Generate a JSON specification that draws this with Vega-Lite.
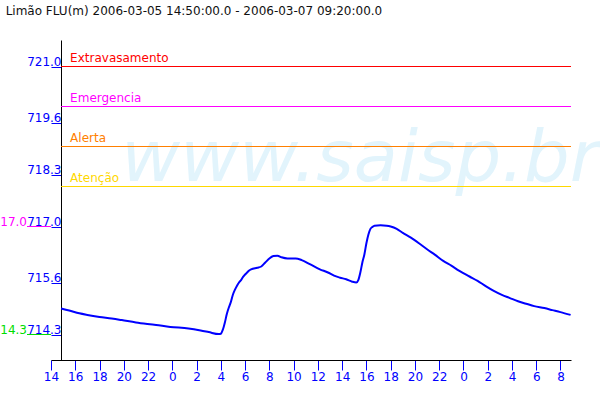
{
  "$schema": "https://vega.github.io/schema/vega-lite/v6.json",
  "width": 520,
  "height": 320,
  "autosize": {"type": "none"},
  "padding": {"left": 51, "top": 40, "right": 29, "bottom": 40},
  "background": "white",
  "config": {
    "view": {"stroke": null},
    "font": "DejaVu Sans",
    "axis": {"grid": false, "domainColor": "#000000", "domainWidth": 1, "tickColor": "#0000ff", "tickWidth": 1, "labelColor": "#0000ff", "labelFont": "DejaVu Sans", "labelFontSize": 12, "tickSize": 10},
    "axisX": {"labelPadding": 1, "labelAngle": 0},
    "axisY": {"labelPadding": -10, "labelBaseline": "bottom", "labelOffset": 2}
  },
  "title": {"text": "Lim\u00e3o FLU(m) 2006-03-05 14:50:00.0 - 2006-03-07 09:20:00.0", "anchor": "start", "dx": 13, "offset": 22, "font": "DejaVu Sans", "fontSize": 12, "fontWeight": "normal", "color": "#111111"},
  "data": {"values": [{"mark": "watermark"}]},
  "datasets": {
    "series": [
      {"t": "2006-03-05T14:50:00", "v": 714.95},
      {"t": "2006-03-05T15:30:00", "v": 714.90},
      {"t": "2006-03-05T16:20:00", "v": 714.83},
      {"t": "2006-03-05T17:00:00", "v": 714.79},
      {"t": "2006-03-05T18:00:00", "v": 714.74},
      {"t": "2006-03-05T19:00:00", "v": 714.70},
      {"t": "2006-03-05T19:50:00", "v": 714.66},
      {"t": "2006-03-05T21:00:00", "v": 714.60},
      {"t": "2006-03-05T22:40:00", "v": 714.54},
      {"t": "2006-03-05T23:50:00", "v": 714.49},
      {"t": "2006-03-06T01:20:00", "v": 714.45},
      {"t": "2006-03-06T02:20:00", "v": 714.40},
      {"t": "2006-03-06T03:00:00", "v": 714.36},
      {"t": "2006-03-06T03:50:00", "v": 714.31},
      {"t": "2006-03-06T04:00:00", "v": 714.32},
      {"t": "2006-03-06T04:10:00", "v": 714.42},
      {"t": "2006-03-06T04:20:00", "v": 714.60},
      {"t": "2006-03-06T04:30:00", "v": 714.82},
      {"t": "2006-03-06T04:40:00", "v": 714.98},
      {"t": "2006-03-06T04:50:00", "v": 715.12},
      {"t": "2006-03-06T05:00:00", "v": 715.30},
      {"t": "2006-03-06T05:10:00", "v": 715.42},
      {"t": "2006-03-06T05:20:00", "v": 715.52},
      {"t": "2006-03-06T05:30:00", "v": 715.60},
      {"t": "2006-03-06T05:40:00", "v": 715.66},
      {"t": "2006-03-06T05:50:00", "v": 715.74},
      {"t": "2006-03-06T06:00:00", "v": 715.80},
      {"t": "2006-03-06T06:10:00", "v": 715.85},
      {"t": "2006-03-06T06:20:00", "v": 715.90},
      {"t": "2006-03-06T06:30:00", "v": 715.93},
      {"t": "2006-03-06T07:00:00", "v": 715.97},
      {"t": "2006-03-06T07:20:00", "v": 716.00},
      {"t": "2006-03-06T07:40:00", "v": 716.10},
      {"t": "2006-03-06T08:00:00", "v": 716.20},
      {"t": "2006-03-06T08:20:00", "v": 716.26},
      {"t": "2006-03-06T08:40:00", "v": 716.27},
      {"t": "2006-03-06T09:00:00", "v": 716.23},
      {"t": "2006-03-06T09:30:00", "v": 716.20},
      {"t": "2006-03-06T10:10:00", "v": 716.20},
      {"t": "2006-03-06T10:40:00", "v": 716.16},
      {"t": "2006-03-06T11:20:00", "v": 716.06},
      {"t": "2006-03-06T12:10:00", "v": 715.93},
      {"t": "2006-03-06T12:50:00", "v": 715.85},
      {"t": "2006-03-06T13:20:00", "v": 715.77},
      {"t": "2006-03-06T13:50:00", "v": 715.72},
      {"t": "2006-03-06T14:20:00", "v": 715.68},
      {"t": "2006-03-06T14:50:00", "v": 715.62},
      {"t": "2006-03-06T15:10:00", "v": 715.60},
      {"t": "2006-03-06T15:20:00", "v": 715.66},
      {"t": "2006-03-06T15:30:00", "v": 715.85},
      {"t": "2006-03-06T15:40:00", "v": 716.10},
      {"t": "2006-03-06T15:50:00", "v": 716.30},
      {"t": "2006-03-06T16:00:00", "v": 716.58},
      {"t": "2006-03-06T16:10:00", "v": 716.80},
      {"t": "2006-03-06T16:20:00", "v": 716.94},
      {"t": "2006-03-06T16:30:00", "v": 716.99},
      {"t": "2006-03-06T16:40:00", "v": 717.02},
      {"t": "2006-03-06T17:10:00", "v": 717.03},
      {"t": "2006-03-06T17:40:00", "v": 717.02},
      {"t": "2006-03-06T18:00:00", "v": 717.00},
      {"t": "2006-03-06T18:30:00", "v": 716.94},
      {"t": "2006-03-06T19:00:00", "v": 716.84},
      {"t": "2006-03-06T19:40:00", "v": 716.72},
      {"t": "2006-03-06T20:20:00", "v": 716.58},
      {"t": "2006-03-06T21:00:00", "v": 716.43},
      {"t": "2006-03-06T21:40:00", "v": 716.29},
      {"t": "2006-03-06T22:20:00", "v": 716.14},
      {"t": "2006-03-06T23:00:00", "v": 716.02},
      {"t": "2006-03-06T23:40:00", "v": 715.89},
      {"t": "2006-03-07T00:30:00", "v": 715.75},
      {"t": "2006-03-07T01:10:00", "v": 715.64},
      {"t": "2006-03-07T01:50:00", "v": 715.51},
      {"t": "2006-03-07T02:30:00", "v": 715.39},
      {"t": "2006-03-07T03:10:00", "v": 715.29},
      {"t": "2006-03-07T03:50:00", "v": 715.21},
      {"t": "2006-03-07T04:30:00", "v": 715.13},
      {"t": "2006-03-07T05:10:00", "v": 715.07},
      {"t": "2006-03-07T05:50:00", "v": 715.01},
      {"t": "2006-03-07T06:40:00", "v": 714.96},
      {"t": "2006-03-07T07:20:00", "v": 714.91},
      {"t": "2006-03-07T08:00:00", "v": 714.86},
      {"t": "2006-03-07T08:50:00", "v": 714.79}
    ],
    "levels": [
      {"nivel": "Extravasamento", "v": 721.0},
      {"nivel": "Emergencia", "v": 720.0},
      {"nivel": "Alerta", "v": 719.0},
      {"nivel": "Aten\u00e7\u00e3o", "v": 718.0}
    ],
    "extremes": [
      {"kind": "max", "v": 717.0},
      {"kind": "min", "v": 714.3}
    ]
  },
  "layer": [
    {
      "mark": {"type": "text", "text": "www.saisp.br", "font": "DejaVu Sans", "fontSize": 72, "fontStyle": "italic", "color": "#e2f4fc", "align": "left", "baseline": "alphabetic"},
      "encoding": {
        "x": {"datum": {"year": 2006, "month": 3, "date": 5, "hours": 19, "minutes": 48}, "type": "temporal"},
        "y": {"datum": 718.15, "type": "quantitative"}
      }
    },
    {
      "data": {"name": "levels"},
      "mark": {"type": "rule", "strokeWidth": 1},
      "encoding": {
        "x": {"datum": {"year": 2006, "month": 3, "date": 5, "hours": 14, "minutes": 50}, "type": "temporal"},
        "x2": {"datum": {"year": 2006, "month": 3, "date": 7, "hours": 8, "minutes": 52}},
        "y": {"field": "v", "type": "quantitative"},
        "color": {"field": "nivel", "type": "nominal", "legend": null, "scale": {"domain": ["Extravasamento", "Emergencia", "Alerta", "Aten\u00e7\u00e3o", "max", "min"], "range": ["#ff0000", "#ff00ff", "#ff8000", "#ffd800", "#ff00ff", "#00dd00"]}}
      }
    },
    {
      "data": {"name": "levels"},
      "mark": {"type": "text", "align": "left", "baseline": "alphabetic", "dx": 9, "dy": -5, "font": "DejaVu Sans", "fontSize": 12},
      "encoding": {
        "x": {"datum": {"year": 2006, "month": 3, "date": 5, "hours": 14, "minutes": 50}, "type": "temporal"},
        "y": {"field": "v", "type": "quantitative"},
        "text": {"field": "nivel"},
        "color": {"field": "nivel", "type": "nominal", "legend": null}
      }
    },
    {
      "data": {"name": "extremes"},
      "mark": {"type": "rule", "strokeWidth": 1, "xOffset": -24},
      "encoding": {
        "x": {"datum": {"year": 2006, "month": 3, "date": 5, "hours": 14, "minutes": 0}, "type": "temporal"},
        "x2": {"datum": {"year": 2006, "month": 3, "date": 5, "hours": 14, "minutes": 0}},
        "y": {"field": "v", "type": "quantitative"},
        "color": {"field": "kind", "type": "nominal", "legend": null}
      }
    },
    {
      "data": {"name": "extremes"},
      "mark": {"type": "text", "align": "right", "baseline": "alphabetic", "dx": -24, "dy": -1, "font": "DejaVu Sans", "fontSize": 12},
      "encoding": {
        "x": {"datum": {"year": 2006, "month": 3, "date": 5, "hours": 14, "minutes": 0}, "type": "temporal"},
        "y": {"field": "v", "type": "quantitative"},
        "text": {"field": "v", "type": "quantitative", "format": ".1f"},
        "color": {"field": "kind", "type": "nominal", "legend": null}
      }
    },
    {
      "data": {"name": "series"},
      "mark": {"type": "line", "color": "#0000ff", "strokeWidth": 2, "interpolate": "monotone"},
      "encoding": {
        "x": {"field": "t", "type": "temporal", "title": null,
          "scale": {"domain": [{"year": 2006, "month": 3, "date": 5, "hours": 14, "minutes": 0}, {"year": 2006, "month": 3, "date": 7, "hours": 8, "minutes": 52}]},
          "axis": {"labelExpr": "'' + hours(datum.value)", "tickCount": 40, "values": [
            {"year": 2006, "month": 3, "date": 5, "hours": 14}, {"year": 2006, "month": 3, "date": 5, "hours": 16}, {"year": 2006, "month": 3, "date": 5, "hours": 18}, {"year": 2006, "month": 3, "date": 5, "hours": 20}, {"year": 2006, "month": 3, "date": 5, "hours": 22},
            {"year": 2006, "month": 3, "date": 6, "hours": 0}, {"year": 2006, "month": 3, "date": 6, "hours": 2}, {"year": 2006, "month": 3, "date": 6, "hours": 4}, {"year": 2006, "month": 3, "date": 6, "hours": 6}, {"year": 2006, "month": 3, "date": 6, "hours": 8}, {"year": 2006, "month": 3, "date": 6, "hours": 10}, {"year": 2006, "month": 3, "date": 6, "hours": 12}, {"year": 2006, "month": 3, "date": 6, "hours": 14}, {"year": 2006, "month": 3, "date": 6, "hours": 16}, {"year": 2006, "month": 3, "date": 6, "hours": 18}, {"year": 2006, "month": 3, "date": 6, "hours": 20}, {"year": 2006, "month": 3, "date": 6, "hours": 22},
            {"year": 2006, "month": 3, "date": 7, "hours": 0}, {"year": 2006, "month": 3, "date": 7, "hours": 2}, {"year": 2006, "month": 3, "date": 7, "hours": 4}, {"year": 2006, "month": 3, "date": 7, "hours": 6}, {"year": 2006, "month": 3, "date": 7, "hours": 8}
          ], "labelFlush": false, "labelOverlap": false, "title": null}},
        "y": {"field": "v", "type": "quantitative", "title": null,
          "scale": {"domain": [713.6625, 721.6625], "zero": false, "nice": false},
          "axis": {"values": [714.3, 715.6, 717.0, 718.3, 719.6, 721.0], "format": ".1f", "offset": -10, "title": null}}
      }
    }
  ]
}
